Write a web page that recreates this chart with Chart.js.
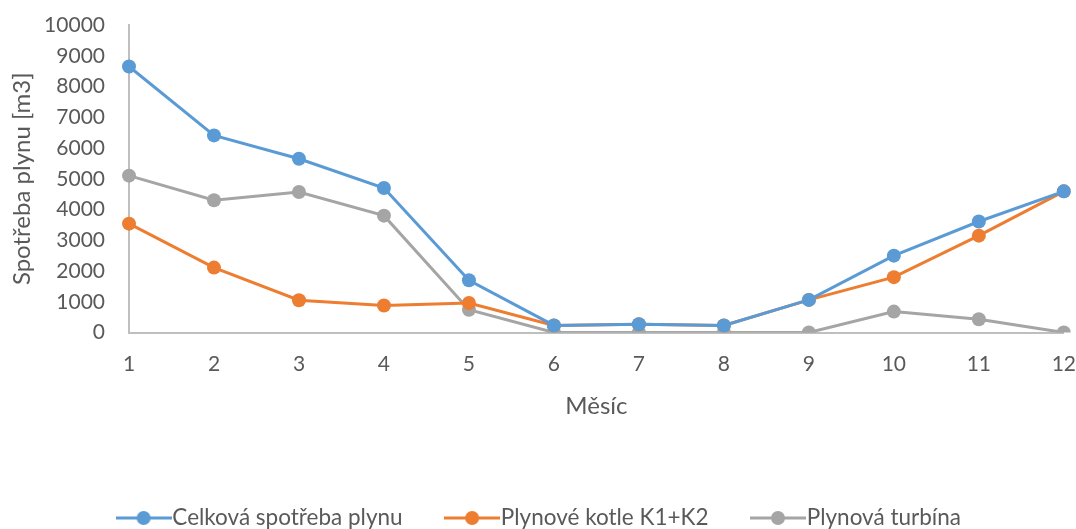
<!DOCTYPE html>
<html>
<head>
<meta charset="utf-8">
<script src="https://cdn.jsdelivr.net/npm/chart.js@4/dist/chart.umd.min.js"></script>
<style>
  html, body { margin: 0; padding: 0; background: #ffffff; overflow: hidden; }
  #wrap { width: 1076px; height: 529px; }
</style>
</head>
<body>
<div id="wrap"><canvas id="c" width="1076" height="529"></canvas></div>
<script>
// Měsíční spotřeba plynu [m3]
const months = ['1', '2', '3', '4', '5', '6', '7', '8', '9', '10', '11', '12'];
const celkovaSpotreba = [8650, 6410, 5650, 4700, 1700, 230, 270, 230, 1060, 2500, 3610, 4590];
const kotleK1K2 = [3540, 2110, 1050, 880, 960, 230, 270, 230, 1060, 1800, 3150, 4590];
const turbina = [5100, 4300, 4570, 3800, 740, 0, 0, 0, 0, 680, 430, 0];
const yTicks = [0, 1000, 2000, 3000, 4000, 5000, 6000, 7000, 8000, 9000, 10000];

const BLUE = '#5B9BD5', ORANGE = '#ED7D31', GRAY = '#A5A5A5';
const TEXT = '#595959';
const AXIS = '#BFBFBF';
const FONT = "Lato, 'Open Sans', sans-serif";

// legend symbol: short line with a round marker in the middle
function legendSymbol(color) {
  const c = document.createElement('canvas');
  c.width = 56; c.height = 16;
  const g = c.getContext('2d');
  g.strokeStyle = color; g.lineWidth = 3;
  g.beginPath(); g.moveTo(0, 8); g.lineTo(56, 8); g.stroke();
  g.fillStyle = color;
  g.beginPath(); g.arc(28, 8, 7, 0, Math.PI * 2); g.fill();
  return c;
}

function series(label, data, color) {
  return {
    label, data,
    borderColor: color, backgroundColor: color,
    borderWidth: 3,
    pointRadius: 7, pointHoverRadius: 7,
    pointBackgroundColor: color, pointBorderColor: color, pointBorderWidth: 0,
    tension: 0, fill: false
  };
}

// invisible tick marks keep the labels away from the axis lines
function hiddenTicks(len) {
  return { display: true, drawOnChartArea: false, drawTicks: true, tickLength: len, tickColor: 'rgba(0,0,0,0)' };
}

// shifts the legend row a little lower and to the right inside its box
const legendOffset = {
  id: 'legendOffset',
  afterLayout(chart) {
    const lg = chart.legend;
    if (lg) {
      lg.top += 10.25; lg.bottom += 10.25;
      lg.left += 11; lg.right += 11;
    }
  }
};

new Chart(document.getElementById('c'), {
  type: 'line',
  data: {
    labels: months,
    datasets: [
      series('Celková spotřeba plynu', celkovaSpotreba, BLUE),
      series('Plynové kotle K1+K2', kotleK1K2, ORANGE),
      series('Plynová turbína', turbina, GRAY)
    ]
  },
  plugins: [legendOffset],
  options: {
    responsive: false,
    animation: false,
    devicePixelRatio: 1,
    layout: { padding: { top: 25, right: 11, bottom: 0, left: 0 } },
    plugins: {
      tooltip: { enabled: false },
      legend: {
        position: 'bottom',
        labels: {
          usePointStyle: true,
          pointStyleWidth: 35,
          padding: 52,
          color: TEXT,
          font: { family: FONT, size: 22.5 },
          generateLabels(chart) {
            const base = Chart.defaults.plugins.legend.labels.generateLabels(chart);
            return base.map(item => {
              item.pointStyle = legendSymbol(chart.data.datasets[item.datasetIndex].borderColor);
              return item;
            });
          }
        }
      }
    },
    scales: {
      x: {
        type: 'category',
        offset: false,
        grid: hiddenTicks(19),
        border: { display: true, color: AXIS, width: 2 },
        ticks: { color: TEXT, font: { family: FONT, size: 21 }, padding: 0, maxRotation: 0, autoSkip: false },
        title: { display: true, text: 'Měsíc', color: TEXT, font: { family: FONT, size: 24 }, padding: { top: 10, bottom: 24 } },
        afterFit(scale) { scale.height = 112; }
      },
      y: {
        min: 0, max: 10000,
        afterBuildTicks(scale) { scale.ticks = yTicks.map(v => ({ value: v })); },
        grid: hiddenTicks(24),
        border: { display: true, color: AXIS, width: 2 },
        ticks: { color: TEXT, font: { family: FONT, size: 21 }, padding: 0, callback: v => String(v) },
        title: { display: true, text: 'Spotřeba plynu [m3]', color: TEXT, font: { family: FONT, size: 24 }, padding: { top: 8, bottom: 0 } },
        afterFit(scale) { scale.width = 129; }
      }
    }
  }
});
</script>
</body>
</html>
